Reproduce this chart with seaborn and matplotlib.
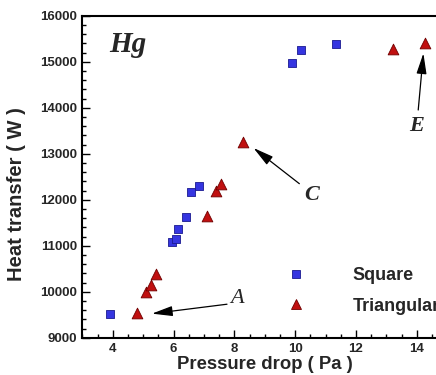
import matplotlib
matplotlib.use("Agg")
import matplotlib.pyplot as plt
import seaborn as sns
import pandas as pd
from matplotlib.ticker import MultipleLocator
from matplotlib.lines import Line2D

# ---- data ----
square_x = [3.91, 5.94, 6.07, 6.16, 6.40, 6.57, 6.84, 9.91, 10.20, 11.34]
square_y = [9515, 11074, 11139, 11357, 11630, 12174, 12304, 14965, 15254, 15378]
tri_x = [4.79, 5.09, 5.25, 5.41, 7.09, 7.40, 7.55, 8.30, 13.21, 14.28]
tri_y = [9530, 10000, 10146, 10378, 11652, 12196, 12341, 13261, 15270, 15400]
series_names = ["Square", "Triangular"]
x_ticks = [4, 6, 8, 10, 12, 14]
y_ticks = [9000, 10000, 11000, 12000, 13000, 14000, 15000, 16000]

sns.set_theme(style="ticks")
plt.rcParams["font.family"] = ["Liberation Sans", "DejaVu Sans"]
plt.rcParams["font.weight"] = "bold"

sq_df = pd.DataFrame({"x": square_x, "y": square_y})
tri_df = pd.DataFrame({"x": tri_x, "y": tri_y})

sq_face, sq_edge = "#3535e0", "#1a1a90"
tr_face, tr_edge = "#c01010", "#700000"

fig = plt.figure(figsize=(4.36, 3.75), dpi=100)
ax = fig.add_axes([82.3 / 436, 1 - 337.7 / 375, 12 * 30.4 / 436, 322 / 375])

sns.scatterplot(data=sq_df, x="x", y="y", marker="s", s=40, color=sq_face,
                edgecolor=sq_edge, linewidth=0.6, ax=ax, legend=False)
sns.scatterplot(data=tri_df, x="x", y="y", marker="^", s=60, color=tr_face,
                edgecolor=tr_edge, linewidth=0.6, ax=ax, legend=False)

ax.set_xlim(3, 15)
ax.set_ylim(9000, 16000)
ax.set_xticks(x_ticks)
ax.set_yticks(y_ticks)
ax.xaxis.set_minor_locator(MultipleLocator(0.5))
ax.yaxis.set_minor_locator(MultipleLocator(200))
ax.tick_params(which="both", direction="in", top=False, right=False,
               labelsize=9.5, width=1.0, color="black")
ax.tick_params(which="major", length=6)
ax.tick_params(which="minor", length=3)
for lab in ax.get_xticklabels() + ax.get_yticklabels():
    lab.set_fontweight("bold")
for sp in ax.spines.values():
    sp.set_linewidth(1.5)
    sp.set_color("black")

ax.set_xlabel("Pressure drop ( Pa )", fontsize=13.3, fontweight="bold", labelpad=1)
ax.set_ylabel("Heat transfer ( W )", fontsize=14.5, fontweight="bold")
ax.yaxis.set_label_coords(-0.154, 0.446)

# legend
handles = [
    Line2D([], [], marker="s", ls="none", markersize=6.3, markerfacecolor=sq_face,
           markeredgecolor=sq_edge, markeredgewidth=0.6),
    Line2D([], [], marker="^", ls="none", markersize=7.7, markerfacecolor=tr_face,
           markeredgecolor=tr_edge, markeredgewidth=0.6),
]
leg = ax.legend(handles, series_names, loc="center left", bbox_to_anchor=(0.562, 0.145),
                frameon=False, handlelength=1.0, handletextpad=2.6, labelspacing=0.75,
                borderpad=0, borderaxespad=0, prop={"size": 13, "weight": "bold"})

# text labels
serif = ["Liberation Serif", "DejaVu Serif"]
ax.text(0.125, 0.912, "Hg", transform=ax.transAxes, ha="center", va="center",
        fontsize=21, fontweight="bold", fontstyle="italic", family=serif)

arrow = dict(arrowstyle="-|>,head_length=0.9,head_width=0.22", color="black", lw=0.9,
             mutation_scale=14, shrinkA=0, shrinkB=0)
ax.annotate("", xy=(5.29, 9523), xytext=(7.76, 9728), arrowprops=arrow)
ax.text(8.09, 9857, "A", ha="center", va="center", fontsize=16, fontstyle="italic",
        fontweight="normal", family=serif)
ax.annotate("", xy=(8.63, 13125), xytext=(10.14, 12348), arrowprops=arrow)
ax.text(10.55, 12100, "C", ha="center", va="center", fontsize=16, fontstyle="italic",
        fontweight="bold", family=serif)
ax.annotate("", xy=(14.22, 15183), xytext=(14.05, 13950), arrowprops=arrow)
ax.text(14.0, 13600, "E", ha="center", va="center", fontsize=16, fontstyle="italic",
        fontweight="bold", family=serif)

fig.savefig("out.png", dpi=100)
